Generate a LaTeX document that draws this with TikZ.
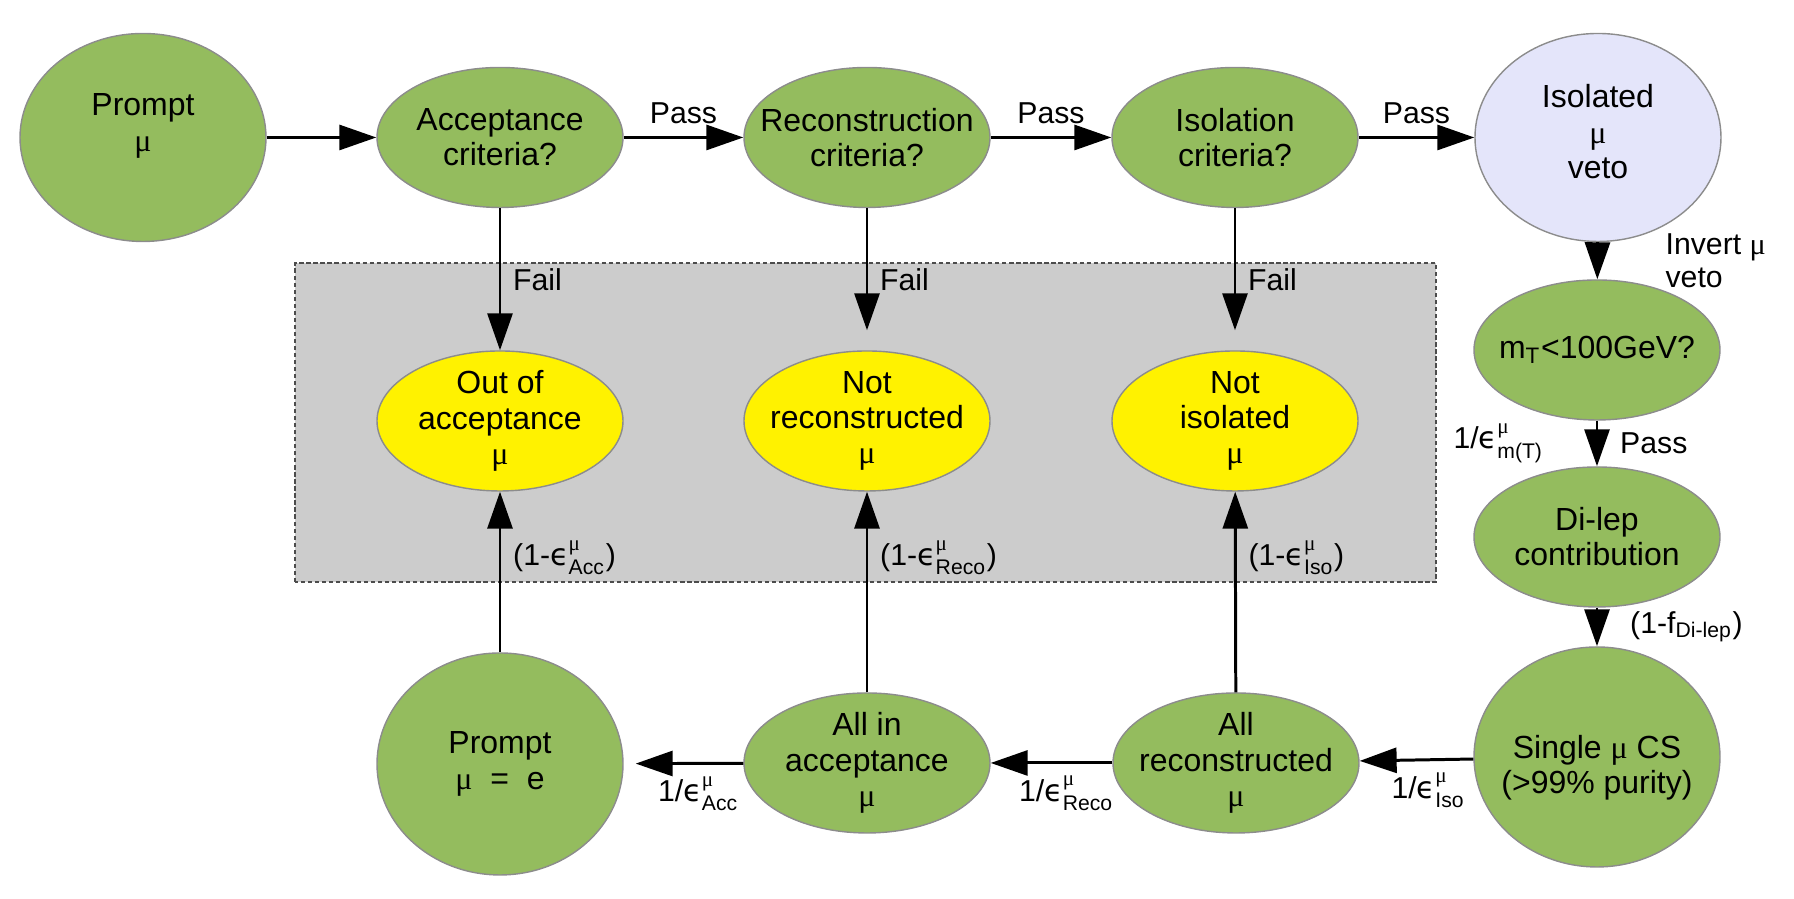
\documentclass[tikz,border=0pt]{standalone}
\usepackage{fontspec}
\usepackage{amsmath}
\setmainfont{Liberation Sans}
\newfontfamily\mufont{Liberation Serif}
\newfontfamily\epsfont{DejaVu Sans}
\usetikzlibrary{shapes.geometric,arrows.meta}
\definecolor{leafgreen}{HTML}{94BC5E}
\definecolor{vetoblue}{HTML}{E4E5FA}
\definecolor{failgray}{HTML}{CCCCCC}
\newcommand{\mumu}{{\mufont μ}}
\newcommand{\effmu}[1]{{\epsfont ϵ}$^{\text{\mufont μ}}_{\text{#1}}$}

\begin{document}
\begin{tikzpicture}[x=1cm,y=1cm]
	\tikzset{blob/.style={ellipse, draw=black!45, line width=0.4pt, fill=leafgreen, align=center, inner sep=-0.3cm, minimum width=2.46cm, minimum height=1.40cm, font=\fontsize{9.1}{10}\selectfont},
		failblob/.style={blob, fill=yellow},
		arr/.style={line width=0.85pt, -{Triangle[length=0.37cm,width=0.25cm]}},
		lbl/.style={font=\fontsize{8.6}{9.6}\selectfont}}
	\useasboundingbox (0,0) rectangle (17.94,8.99);
	% grey panel behind the failing muons
	\draw[fill=failgray, draw=black!70, dash pattern=on 1.2pt off 0.8pt, line width=0.4pt] (2.95,3.17) rectangle (14.36,6.36);
	\node[blob, minimum height=2.08cm, text depth=0.3cm] (prompt) at (1.43,7.615) {Prompt\\ \mumu};
	\node[blob] (acc) at (5.00,7.615) {Acceptance\\criteria?};
	\node[blob] (rec) at (8.67,7.615) {Reconstruction\\criteria?};
	\node[blob] (iso) at (12.35,7.615) {Isolation\\criteria?};
	\node[blob, fill=vetoblue, minimum height=2.08cm, text depth=0.12cm] (veto) at (15.98,7.615) {Isolated\\ \mumu\\veto};
	\node[blob] (mt) at (15.97,5.49) {m$_{\text{T}}$<100GeV?};
	\node[blob] (dilep) at (15.97,3.62) {Di-lep\\contribution};
	\node[blob, minimum height=2.20cm, text height=0.8cm] (single) at (15.97,1.42) {Single \mumu{} CS\\(>99\% purity)};
	\node[failblob] (outacc) at (5.00,4.78) {Out of\\acceptance\\ \mumu};
	\node[failblob] (notrec) at (8.67,4.78) {Not\\reconstructed\\ \mumu};
	\node[failblob] (notiso) at (12.35,4.78) {Not\\isolated\\ \mumu};
	\node[blob, minimum height=2.22cm] (prompte) at (5.00,1.35) {Prompt\\ \mumu\ \ =\ \ e};
	\node[blob] (allacc) at (8.67,1.36) {All in\\acceptance\\ \mumu};
	\node[blob] (allrec) at (12.36,1.36) {All\\reconstructed\\ \mumu};
	% top row
	\draw[arr] (prompt) -- (acc);
	\draw[arr] (acc) -- node[lbl,above] {Pass} (rec);
	\draw[arr] (rec) -- node[lbl,above] {Pass} (iso);
	\draw[arr] (iso) -- node[lbl,above] {Pass} (veto);
	% right column
	\draw[arr] (veto) -- node[lbl,right=0.55cm,align=left] {Invert \mumu\\veto} (mt);
	\draw[arr] (mt) -- node[lbl,right=0.1cm] {Pass} node[lbl,left=0.4cm] {1/\effmu{m(T)}} (dilep);
	\draw[arr] (dilep) -- node[lbl,right=0.2cm] {(1-f$_{\text{Di-lep}}$)} (single);
	% bottom row
	\draw[arr] (single) -- node[lbl,below,xshift=0.12cm] {1/\effmu{Iso}} (allrec);
	\draw[arr] (allrec) -- node[lbl,below,xshift=0.15cm] {1/\effmu{Reco}} (allacc);
	\draw[arr,shorten >=0.12cm] (allacc) -- node[lbl,below,xshift=0.15cm] {1/\effmu{Acc}} (prompte);
	% fail branches
	\draw[arr] (acc) -- node[lbl,right] {Fail} (outacc);
	\draw[arr,shorten >=0.2cm] (rec) -- node[lbl,right] {Fail} (notrec);
	\draw[arr,shorten >=0.2cm] (iso) -- node[lbl,right] {Fail} (notiso);
	\draw[arr] (prompte) -- node[lbl,right,pos=0.59] {(1-\effmu{Acc})} (outacc);
	\draw[arr] (allacc) -- node[lbl,right,pos=0.67] {(1-\effmu{Reco})} (notrec);
	\draw[arr] (allrec) -- node[lbl,right,pos=0.67] {(1-\effmu{Iso})} (notiso);
\end{tikzpicture}
\end{document}
